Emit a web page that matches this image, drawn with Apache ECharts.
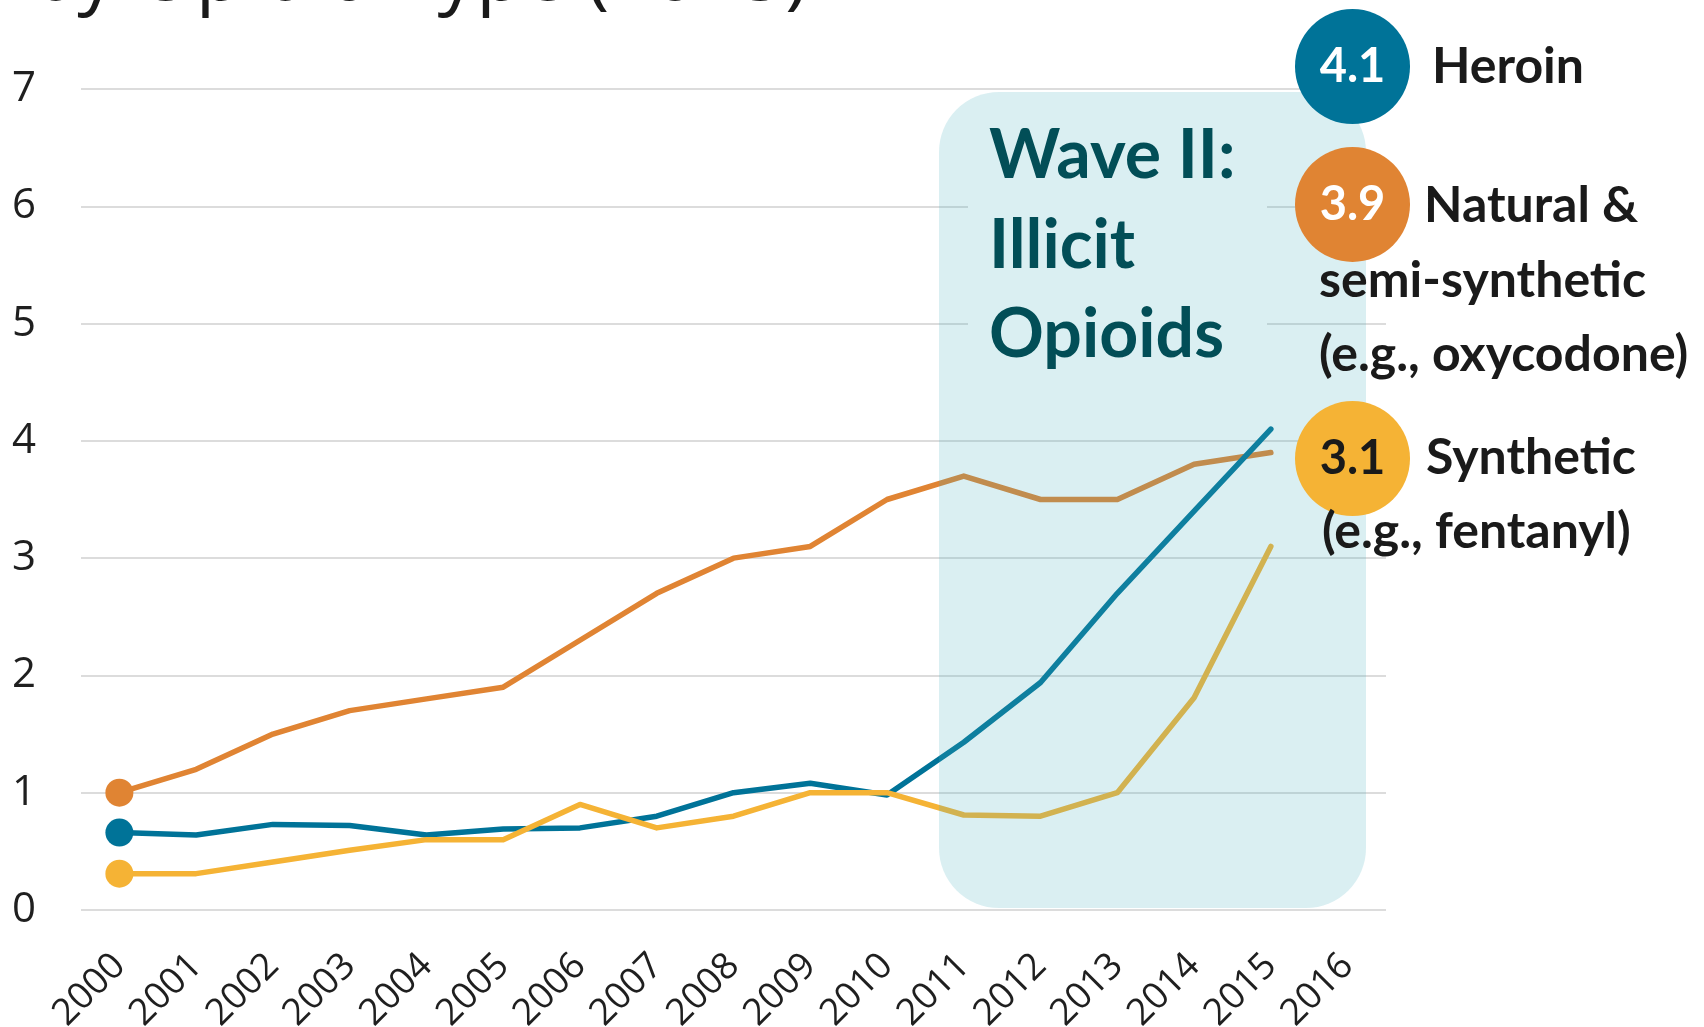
<!DOCTYPE html>
<html><head><meta charset="utf-8">
<script src="https://cdn.jsdelivr.net/npm/echarts@6/dist/echarts.min.js"></script>
<style>html,body{margin:0;padding:0;background:#fff;overflow:hidden}#c{width:1704px;height:1027px}</style>
</head><body><div id="c"></div><script>
// ---- data ----
const years = ['2000','2001','2002','2003','2004','2005','2006','2007','2008','2009','2010','2011','2012','2013','2014','2015','2016'];
const natural   = [1.0, 1.2, 1.5, 1.7, 1.8, 1.9, 2.3, 2.7, 3.0, 3.1, 3.5, 3.7, 3.5, 3.5, 3.8, 3.9];
const heroin    = [0.66, 0.64, 0.73, 0.72, 0.64, 0.69, 0.70, 0.80, 1.00, 1.08, 0.98, 1.43, 1.94, 2.70, 3.40, 4.1];
const synthetic = [0.31, 0.31, 0.41, 0.51, 0.60, 0.60, 0.90, 0.70, 0.80, 1.00, 1.00, 0.81, 0.80, 1.00, 1.81, 3.1];
const seriesNames = ['Natural & semi-synthetic', 'Heroin', 'Synthetic'];
const titleText = 'by Opioid Type (2015)';
const waveLines = ['Wave II:', 'Illicit', 'Opioids'];
const legendLines = {
  heroin: ['Heroin'],
  natural: ['Natural &', 'semi-synthetic', '(e.g., oxycodone)'],
  synthetic: ['Synthetic', '(e.g., fentanyl)']
};

const C_BLUE = '#007398', C_ORANGE = '#e08433', C_YELLOW = '#f5b335';

function withStartDot(arr) {
  return arr.map((v, i) => i === 0 ? { value: v, symbol: 'circle', symbolSize: 28 } : { value: v, symbol: 'none' });
}
function lineSeries(name, arr, color) {
  return {
    name, type: 'line', data: withStartDot(arr), symbol: 'none',
    lineStyle: { color, width: 5.5, cap: 'round', join: 'round' },
    itemStyle: { color }, z: 2, silent: true, animation: false
  };
}
const last = a => a[a.length - 1].toFixed(1);

const LF = 'Lato, "Open Sans", sans-serif';
const legFont = 'bold 50px ' + LF;
const numFont = 'bold 47px ' + LF;
const CX = 1352.5, R = 57.5;
const graphics = [
  { type: 'text', x: 808, y: -22, z: 10, style: { text: titleText, fill: '#1a1a1a', font: '77px "Open Sans", sans-serif', align: 'right', verticalAlign: 'middle' } },
  { type: 'rect', shape: { x: 968, y: 100, width: 299, height: 290 }, style: { fill: '#ffffff' }, z: 50 },
  { type: 'rect', shape: { x: 939, y: 92, width: 427, height: 816, r: 60 }, style: { fill: 'rgba(70,175,190,0.2)' }, z: 100 },
];
const waveBase = [181, 271, 360];
waveLines.forEach((t, i) => graphics.push({ type: 'text', x: 989, y: waveBase[i] - 25, z: 110,
  style: { text: t, fill: '#024e57', font: 'bold 68px ' + LF, align: 'left', verticalAlign: 'middle' } }));

function bubble(cy, color, num, numColor) {
  graphics.push({ type: 'circle', shape: { cx: CX, cy, r: R }, style: { fill: color }, z: 120 });
  graphics.push({ type: 'text', x: CX, y: cy, z: 121, style: { text: num, fill: numColor, font: numFont, align: 'center', verticalAlign: 'middle' } });
}
function legendText(x, base, t) {
  graphics.push({ type: 'text', x, y: base - 18, z: 121, style: { text: t, fill: '#1a1a1a', font: legFont, align: 'left', verticalAlign: 'middle' } });
}
bubble(66.6, C_BLUE, last(heroin), '#ffffff');
bubble(204.5, C_ORANGE, last(natural), '#ffffff');
bubble(458.6, C_YELLOW, last(synthetic), '#1a1a1a');
legendText(1432, 85, legendLines.heroin[0]);
legendText(1424, 224, legendLines.natural[0]);
legendText(1319, 299, legendLines.natural[1]);
legendText(1319, 373, legendLines.natural[2]);
legendText(1426, 476, legendLines.synthetic[0]);
legendText(1322, 550, legendLines.synthetic[1]);

const chart = echarts.init(document.getElementById('c'), null, { renderer: 'canvas' });
chart.setOption({
  animation: false,
  backgroundColor: '#ffffff',
  grid: { left: 81, top: 89, width: 1305, height: 821, containLabel: false, outerBoundsMode: 'none' },
  xAxis: {
    type: 'category', data: years, boundaryGap: true,
    axisLine: { show: false }, axisTick: { show: false },
    axisLabel: { interval: 0, rotate: 45, margin: 50, fontSize: 37, color: '#1f1f1f', fontFamily: '"Open Sans", sans-serif' }
  },
  yAxis: {
    type: 'value', min: 0, max: 7, interval: 1,
    axisLine: { show: false }, axisTick: { show: false },
    axisLabel: { margin: 45, fontSize: 42, color: '#1f1f1f', fontFamily: '"Open Sans", sans-serif' },
    splitLine: { lineStyle: { color: '#dcdcdc', width: 2 } }
  },
  series: [
    lineSeries(seriesNames[0], natural, C_ORANGE),
    lineSeries(seriesNames[1], heroin, C_BLUE),
    lineSeries(seriesNames[2], synthetic, C_YELLOW)
  ],
  graphic: { elements: graphics }
});
</script></body></html>
